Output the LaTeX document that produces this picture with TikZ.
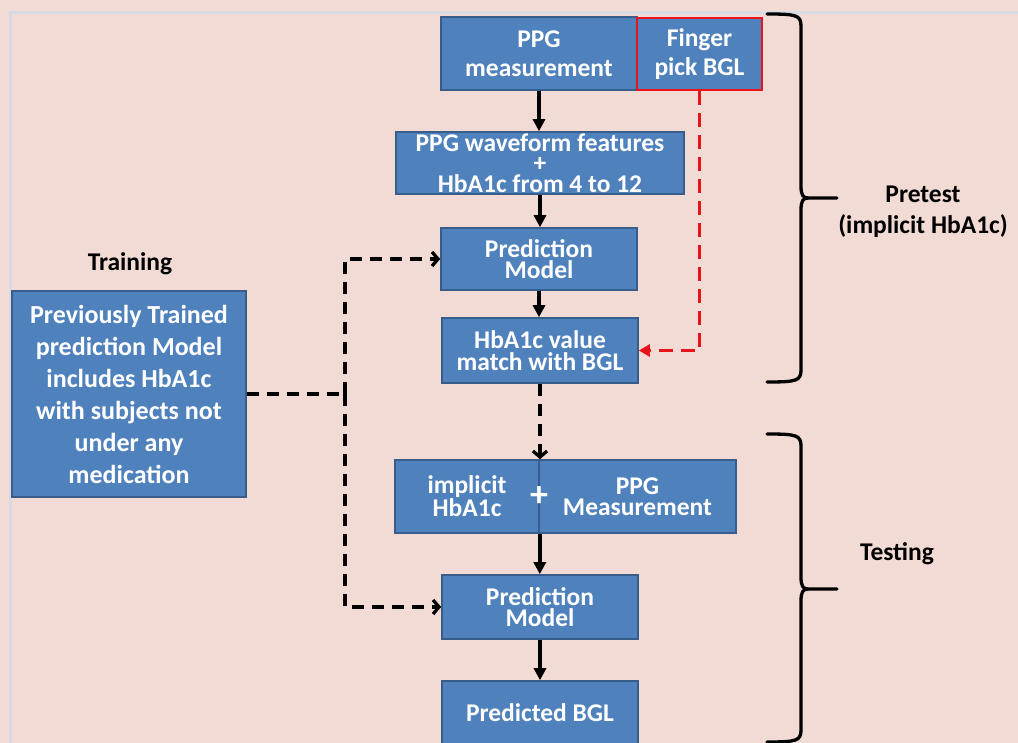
\documentclass[tikz,border=0pt]{standalone}
\usepackage{fontspec}
\setmainfont{Carlito}
\usetikzlibrary{arrows.meta}
\definecolor{bg}{HTML}{F2DBD5}
\definecolor{boxfill}{HTML}{4F81BD}
\definecolor{boxline}{HTML}{385D8A}
\definecolor{frameline}{HTML}{D7DCE4}
\definecolor{redline}{HTML}{E8141C}
\newcommand\bxfont{\fontsize{25.5}{21.5}\selectfont\bfseries}
\newcommand\lbfont{\fontsize{25.5}{31}\selectfont\bfseries}
\tikzset{
  box/.style={draw=boxline, line width=1.6pt, fill=boxfill, text=white, align=center, inner sep=0pt, font=\bxfont},
  solidarrow/.style={line width=3.5pt, -{Triangle[length=12pt,width=12pt]}},
  dasharrow/.style={line width=3.3pt, dash pattern=on 12pt off 8pt, -{Straight Barb[length=6pt,width=14pt]}},
  dashline/.style={line width=3.3pt, dash pattern=on 12pt off 8pt},
  reddash/.style={line width=3.5pt, redline, dash pattern=on 14pt off 8pt, -{Triangle[length=11pt,width=12pt]}},
  bracestyle/.style={line width=3.3pt, line cap=round, line join=round},
  lbl/.style={font=\lbfont, text=black, align=center, inner sep=0pt}
}
\begin{document}
\begin{tikzpicture}[x=1pt,y=-1pt]
\fill[bg] (0,0) rectangle (1018,743);
\useasboundingbox (0,0) rectangle (1018,743);
% faint frame lines
\draw[frameline, line width=2.5pt] (10.5,760) -- (10.5,12.5) -- (1030,12.5);

% top row
\node[box, minimum width=196pt, minimum height=73pt, font=\fontsize{25.5}{29}\selectfont\bfseries] (ppg) at (539,53.5) {PPG\\measurement};
\node[box, draw=redline, line width=2.2pt, minimum width=125pt, minimum height=72pt, font=\fontsize{25.5}{29}\selectfont\bfseries] (finger) at (699.5,54) {Finger\\pick BGL};

\node[box, minimum width=288pt, minimum height=62pt, font=\fontsize{25.5}{20.7}\selectfont\bfseries] (feat) at (540,163) {PPG waveform features\\+\\HbA1c from 4 to 12};
\node[box, minimum width=196pt, minimum height=62pt] (pm1) at (539,259) {Prediction\\Model};
\node[box, minimum width=196pt, minimum height=65pt] (match) at (540,350.5) {HbA1c value\\match with BGL};

\node[box, minimum width=144pt, minimum height=73pt, font=\fontsize{25.5}{20.5}\selectfont\bfseries] (implL) at (467,496.5) {implicit\\HbA1c};
\node[box, minimum width=197pt, minimum height=73pt, font=\fontsize{25.5}{20.5}\selectfont\bfseries] (implR) at (637.5,496.5) {PPG\\Measurement};
\node[text=white, font=\fontsize{36}{36}\selectfont\bfseries, inner sep=0pt] (plus) at (539,497) {+};

\node[box, minimum width=196pt, minimum height=64pt] (pm2) at (540,607) {Prediction\\Model};
\node[box, minimum width=196pt, minimum height=64pt] (pred) at (540,713) {Predicted BGL};

% training
\node[lbl] (trainlbl) at (130,264) {Training};
\node[box, minimum width=234pt, minimum height=206pt, font=\fontsize{26}{32}\selectfont\bfseries] (train) at (129,394) {Previously Trained\\prediction Model\\includes HbA1c\\with subjects not\\under any\\medication};

% main arrows
\draw[solidarrow] (ppg.south) -- (ppg.south |- feat.north);
\draw[solidarrow] (feat.south) -- (feat.south |- pm1.north);
\draw[solidarrow] (pm1.south) -- (pm1.south |- match.north);
\draw[dasharrow] (match.south) -- (match.south |- implL.north);
\draw[solidarrow] (implL.south east) -- (implL.south east |- pm2.north);
\draw[solidarrow] (pm2.south) -- (pred.north);

% red dashed
\draw[reddash] (finger.south) |- (match.east);

% training connectors
\coordinate (junc) at (345,394);
\draw[dashline] (train.east) -- (junc);
\draw[dasharrow] (junc) |- (pm1.west);
\draw[dasharrow] (junc) |- (pm2.west);

% braces
\coordinate (ptop) at (767,14);
\coordinate (pbot) at (767,382);
\coordinate (ptip) at (837,198);
\draw[bracestyle] (ptop) .. controls (796,14) and (801,15) .. (801,26) -- (801,186)
  .. controls (801,195) and (803,198) .. (808,198) -- (ptip);
\draw[bracestyle] (808,198) .. controls (803,198) and (801,201) .. (801,210) -- (801,370)
  .. controls (801,381) and (796,382) .. (pbot);
\coordinate (ttop) at (767,434);
\coordinate (tbot) at (767,742);
\coordinate (ttip) at (837,589);
\draw[bracestyle] (ttop) .. controls (796,434) and (801,435) .. (801,446) -- (801,577)
  .. controls (801,586) and (803,589) .. (808,589) -- (ttip);
\draw[bracestyle] (808,589) .. controls (803,589) and (801,592) .. (801,601) -- (801,730)
  .. controls (801,741) and (796,742) .. (tbot);

\node[lbl] (pretest) at (923,212) {Pretest\\(implicit HbA1c)};
\node[lbl] (testing) at (897,554) {Testing};
\end{tikzpicture}
\end{document}
